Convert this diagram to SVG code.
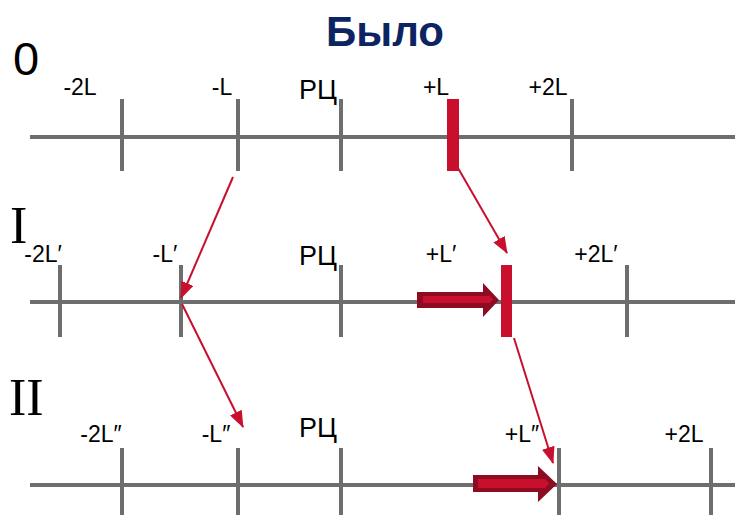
<svg xmlns="http://www.w3.org/2000/svg" width="735" height="515" viewBox="0 0 735 515">
<defs>
<style>
.axis{stroke:#6e6e6e;stroke-width:4;fill:none}
.tick{stroke:#6e6e6e;stroke-width:4;fill:none}
.lbl{font-family:"Liberation Sans",Arial,sans-serif;font-size:23px;fill:#000;text-anchor:middle}
.rc{font-family:"Liberation Sans",Arial,sans-serif;font-size:27px;fill:#000;text-anchor:middle}
.num{font-family:"Liberation Serif","Times New Roman",serif;font-size:52px;fill:#000}
.bar{fill:#c8102e}
.conn{stroke:#c8102e;stroke-width:2;fill:none;marker-end:url(#ah)}
.fat{fill:#8e0c22}
.fatin{fill:#c8102e}
</style>
<marker id="ah" markerWidth="17" markerHeight="13" refX="16" refY="6.5" orient="auto" markerUnits="userSpaceOnUse">
<path d="M0,0 L17,6.5 L0,13 Z" fill="#c8102e"/>
</marker>
</defs>
<rect width="735" height="515" fill="#fff"/>
<text x="385" y="46" font-family="Liberation Sans,Arial,sans-serif" font-weight="bold" font-size="42" fill="#0d2463" text-anchor="middle">Было</text>

<g id="row0">
<text x="13" y="75" font-family="Liberation Sans,Arial,sans-serif" font-size="47" fill="#000">0</text>
<line class="axis" x1="30" y1="137" x2="735" y2="137"/>
<line class="tick" x1="122" y1="99" x2="122" y2="171"/>
<line class="tick" x1="238" y1="99" x2="238" y2="171"/>
<line class="tick" x1="341" y1="99" x2="341" y2="171"/>
<line class="tick" x1="572" y1="99" x2="572" y2="171"/>
<rect class="bar" x="447" y="99" width="12" height="72"/>
<text class="lbl" x="80" y="95">-2L</text>
<text class="lbl" x="222" y="95">-L</text>
<text class="rc" x="318" y="99">РЦ</text>
<text class="lbl" x="436" y="95">+L</text>
<text class="lbl" x="548" y="95">+2L</text>
</g>

<g id="row1">
<text class="num" x="10" y="243">I</text>
<line class="axis" x1="30" y1="302" x2="735" y2="302"/>
<line class="tick" x1="60" y1="265" x2="60" y2="337"/>
<line class="tick" x1="181" y1="265" x2="181" y2="337"/>
<line class="tick" x1="341" y1="265" x2="341" y2="337"/>
<line class="tick" x1="627" y1="265" x2="627" y2="337"/>
<rect class="bar" x="501" y="265" width="11" height="72"/>
<path class="fat" d="M417,292 L483,292 L483,283 L499,300 L483,317 L483,308 L417,308 Z"/>
<path class="fatin" d="M423,296 L490,296 L493,299.5 L490,303 L423,303 Z"/>
<text class="lbl" x="43" y="262">-2L′</text>
<text class="lbl" x="165" y="262">-L′</text>
<text class="rc" x="318" y="265">РЦ</text>
<text class="lbl" x="441" y="262">+L′</text>
<text class="lbl" x="596" y="262">+2L′</text>
</g>

<g id="row2">
<text class="num" x="9" y="415">II</text>
<line class="axis" x1="30" y1="485" x2="735" y2="485"/>
<line class="tick" x1="122" y1="448" x2="122" y2="515"/>
<line class="tick" x1="238" y1="448" x2="238" y2="515"/>
<line class="tick" x1="341" y1="448" x2="341" y2="515"/>
<line class="tick" x1="559" y1="448" x2="559" y2="515"/>
<line class="tick" x1="711" y1="448" x2="711" y2="515"/>
<path class="fat" d="M473,475 L538,475 L538,466 L557,484 L538,502 L538,492 L473,492 Z"/>
<path class="fatin" d="M478,479 L545,479 L549,483.5 L545,488 L478,488 Z"/>
<text class="lbl" x="101" y="442">-2L″</text>
<text class="lbl" x="216" y="442">-L″</text>
<text class="rc" x="318" y="437">РЦ</text>
<text class="lbl" x="522" y="442">+L″</text>
<text class="lbl" x="684" y="442">+2L</text>
</g>

<g id="connectors">
<line class="conn" x1="233" y1="177" x2="181" y2="298"/>
<line class="conn" x1="458" y1="168" x2="507" y2="253"/>
<line class="conn" x1="182" y1="304" x2="243" y2="427"/>
<line class="conn" x1="514" y1="338" x2="553" y2="463"/>
</g>
</svg>
